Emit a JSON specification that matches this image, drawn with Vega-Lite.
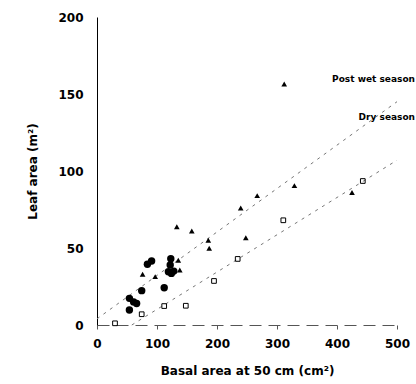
{
  "$schema": "https://vega.github.io/schema/vega-lite/v6.json",
  "width": 300,
  "height": 308,
  "autosize": {"type": "none"},
  "padding": {"left": 97, "top": 17, "right": 19, "bottom": 59},
  "background": "white",
  "config": {
    "view": {"stroke": null},
    "font": "DejaVu Sans",
    "axis": {"labelFont": "DejaVu Sans", "titleFont": "DejaVu Sans", "labelFontWeight": "bold", "titleFontWeight": "bold", "labelColor": "black", "titleColor": "black", "grid": false}
  },
  "datasets": {
    "pts": [
      {"series": "circle", "basal": 91, "leaf": 41.6},
      {"series": "circle", "basal": 84, "leaf": 39.4},
      {"series": "circle", "basal": 123, "leaf": 43},
      {"series": "circle", "basal": 122, "leaf": 39},
      {"series": "circle", "basal": 119, "leaf": 34.6},
      {"series": "circle", "basal": 124, "leaf": 33.5},
      {"series": "circle", "basal": 128, "leaf": 35},
      {"series": "circle", "basal": 74.5, "leaf": 22.3},
      {"series": "circle", "basal": 112, "leaf": 24.2},
      {"series": "circle", "basal": 54, "leaf": 17.3},
      {"series": "circle", "basal": 66, "leaf": 14},
      {"series": "circle", "basal": 61, "leaf": 15},
      {"series": "circle", "basal": 54, "leaf": 9.7},
      {"series": "Post wet season", "basal": 133, "leaf": 63.8},
      {"series": "Post wet season", "basal": 158, "leaf": 61},
      {"series": "Post wet season", "basal": 76, "leaf": 33},
      {"series": "Post wet season", "basal": 97, "leaf": 31.4},
      {"series": "Post wet season", "basal": 135.5, "leaf": 42},
      {"series": "Post wet season", "basal": 138, "leaf": 35.7},
      {"series": "Post wet season", "basal": 185.5, "leaf": 55},
      {"series": "Post wet season", "basal": 187, "leaf": 49.8},
      {"series": "Post wet season", "basal": 239.5, "leaf": 76},
      {"series": "Post wet season", "basal": 267, "leaf": 84},
      {"series": "Post wet season", "basal": 329, "leaf": 90.5},
      {"series": "Post wet season", "basal": 248, "leaf": 56.7},
      {"series": "Post wet season", "basal": 425, "leaf": 86},
      {"series": "Post wet season", "basal": 312, "leaf": 156.5},
      {"series": "Dry season", "basal": 30, "leaf": 1.1},
      {"series": "Dry season", "basal": 74.5, "leaf": 7},
      {"series": "Dry season", "basal": 112, "leaf": 12.3},
      {"series": "Dry season", "basal": 148, "leaf": 12.5},
      {"series": "Dry season", "basal": 195, "leaf": 28.6},
      {"series": "Dry season", "basal": 234.5, "leaf": 42.9},
      {"series": "Dry season", "basal": 310.5, "leaf": 68},
      {"series": "Dry season", "basal": 443, "leaf": 93.5}
    ],
    "fits": [
      {"series": "Post wet season", "basal": 0, "leaf": 4},
      {"series": "Post wet season", "basal": 500, "leaf": 145},
      {"series": "Dry season", "basal": 58, "leaf": 0},
      {"series": "Dry season", "basal": 500, "leaf": 107}
    ],
    "labels": [
      {"label": "Post wet season", "basal": 530, "leaf": 160},
      {"label": "Dry season", "basal": 530, "leaf": 135}
    ]
  },
  "encoding": {
    "x": {"field": "basal", "type": "quantitative", "scale": {"domain": [0, 500], "nice": false, "zero": false},
      "axis": {"title": "Basal area at 50 cm (cm²)", "values": [0, 100, 200, 300, 400, 500], "labelFontSize": 12, "titleFontSize": 12, "labelPadding": 9, "titlePadding": 16, "ticks": true, "tickSize": 4, "tickColor": "#555", "domainColor": "#555", "domainDash": [12, 7], "labelFlush": false}},
    "y": {"field": "leaf", "type": "quantitative", "scale": {"domain": [0, 200], "nice": false, "zero": false},
      "axis": {"title": "Leaf area (m²)", "values": [0, 50, 100, 150, 200], "labelFontSize": 12, "titleFontSize": 12, "ticks": false, "labelPadding": 14, "titlePadding": 18, "domainColor": "black", "labelFlush": false}}
  },
  "layer": [
    {
      "data": {"name": "fits"},
      "mark": {"type": "line", "color": "#777", "strokeWidth": 1, "strokeDash": [3, 5]},
      "encoding": {"detail": {"field": "series"}}
    },
    {
      "data": {"name": "pts"},
      "transform": [{"filter": "datum.series === 'circle'"}],
      "mark": {"type": "point", "shape": "circle", "filled": true, "color": "black", "size": 55, "opacity": 1}
    },
    {
      "data": {"name": "pts"},
      "transform": [{"filter": "datum.series === 'Post wet season'"}],
      "mark": {"type": "point", "shape": "triangle-up", "filled": true, "color": "black", "size": 32, "opacity": 1}
    },
    {
      "data": {"name": "pts"},
      "transform": [{"filter": "datum.series === 'Dry season'"}],
      "mark": {"type": "point", "shape": "square", "filled": false, "color": "black", "size": 22, "strokeWidth": 1, "opacity": 1}
    },
    {
      "data": {"name": "labels"},
      "mark": {"type": "text", "align": "right", "baseline": "middle", "fontSize": 9, "fontWeight": "bold", "font": "DejaVu Sans", "color": "black"},
      "encoding": {"text": {"field": "label"}}
    }
  ]
}
